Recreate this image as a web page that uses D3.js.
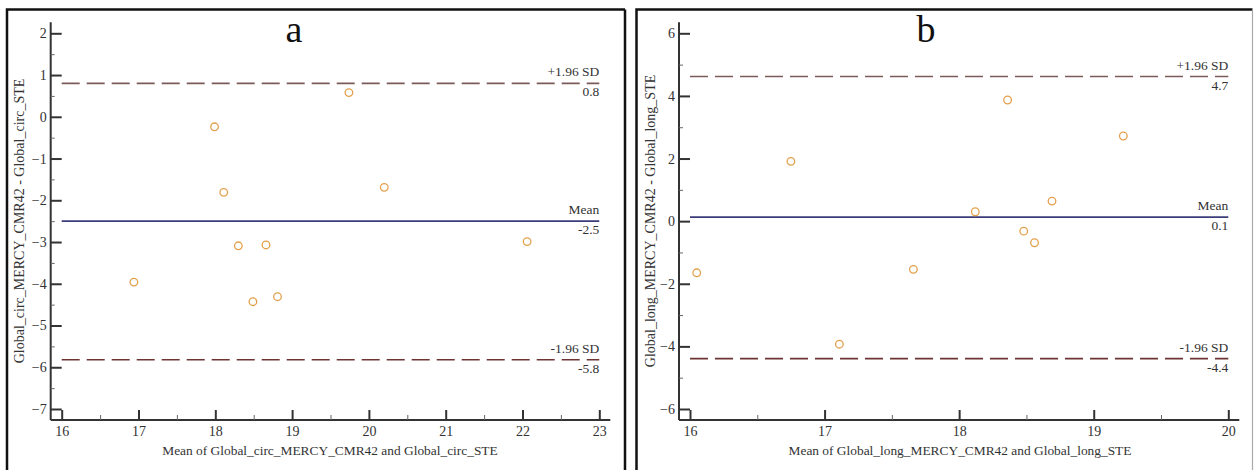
<!DOCTYPE html>
<html>
<head>
<meta charset="utf-8">
<script src="https://cdn.jsdelivr.net/npm/d3@7"></script>
<style>
  html, body { margin: 0; padding: 0; background: #fff; }
  svg { display: block; }
  svg text { font-family: "Liberation Serif", "Times New Roman", serif !important; }
</style>
</head>
<body>
<svg id="chart" width="1254" height="470"></svg>
<script>
// ---------- Data ----------
// Panel a : Global circumferential strain
const aMeanX = [17.99, 18.11, 19.74, 20.20, 22.06, 16.94, 18.30, 18.66, 18.49, 18.81];
const aDiffY = [-0.24, -1.81, 0.58, -1.69, -2.99, -3.96, -3.09, -3.07, -4.43, -4.31];
const aLines = [0.80, -2.50, -5.82];            // +1.96 SD, Mean, -1.96 SD
const aLineNames = ["+1.96 SD", "Mean", "-1.96 SD"];
const aLineValues = ["0.8", "-2.5", "-5.8"];
const aXTicks = [16, 17, 18, 19, 20, 21, 22, 23];
const aYTicks = [-7, -6, -5, -4, -3, -2, -1, 0, 1, 2];
const aXMinor = [16.5, 17.5, 18.5, 19.5, 20.5, 21.5, 22.5];
const aYMinor = [-6.5, -5.5, -4.5, -3.5, -2.5, -1.5, -0.5, 0.5, 1.5];

// Panel b : Global longitudinal strain
const bMeanX = [16.75, 18.36, 19.22, 18.69, 18.12, 18.48, 18.56, 16.05, 17.66, 17.11];
const bDiffY = [1.91, 3.87, 2.72, 0.64, 0.30, -0.32, -0.69, -1.65, -1.54, -3.93];
const bLines = [4.62, 0.13, -4.39];
const bLineNames = ["+1.96 SD", "Mean", "-1.96 SD"];
const bLineValues = ["4.7", "0.1", "-4.4"];
const bXTicks = [16, 17, 18, 19, 20];
const bYTicks = [-6, -4, -2, 0, 2, 4, 6];
const bXMinor = [16.5, 17.5, 18.5, 19.5];
const bYMinor = [-5, -3, -1, 1, 3, 5];

const svg = d3.select("#chart");

// panel frames
function frame(x0, x1, y0, rightColor) {
  svg.append("path")
    .attr("d", `M${x0},470 L${x0},${y0} L${x1},${y0}`)
    .attr("fill", "none").attr("stroke", "#111").attr("stroke-width", 2.5);
  svg.append("line")
    .attr("x1", x1).attr("x2", x1).attr("y1", y0).attr("y2", 470)
    .attr("stroke", rightColor).attr("stroke-width", rightColor === "#111" ? 2.5 : 1.2);
}
frame(7, 625, 9.5, "#111");
frame(636.5, 1252.5, 9.5, "#aaa");

function panel(cfg) {
  const g = svg.append("g");
  const x = d3.scaleLinear().domain(cfg.xDomain).range(cfg.xRange);
  const y = d3.scaleLinear().domain(cfg.yDomain).range(cfg.yRange);
  const axisX = cfg.xRange[0] - 11;   // y-axis position
  const axisY = cfg.yRange[0] + 11;   // x-axis position
  const ext = 11;

  // axis lines
  g.append("line").attr("x1", axisX).attr("x2", axisX)
    .attr("y1", cfg.yRange[1] - ext).attr("y2", axisY)
    .attr("stroke", "#333").attr("stroke-width", 2);
  g.append("line").attr("x1", axisX).attr("x2", cfg.xRange[1] + ext)
    .attr("y1", axisY).attr("y2", axisY)
    .attr("stroke", "#333").attr("stroke-width", 2);

  // y axis (major)
  const yAx = g.append("g").attr("transform", `translate(${axisX},0)`)
    .call(d3.axisLeft(y).tickValues(cfg.yTicks).tickSizeInner(-11).tickSizeOuter(0).tickPadding(4).tickFormat(d3.format("d")));
  yAx.select(".domain").remove();
  yAx.attr("font-family", null);
  yAx.selectAll(".tick line").attr("stroke", "#333").attr("stroke-width", 2);
  yAx.selectAll(".tick text").attr("font-size", 14).attr("fill", "#333");
  // y minor
  const yMin = g.append("g").attr("transform", `translate(${axisX},0)`)
    .call(d3.axisLeft(y).tickValues(cfg.yMinor).tickSizeInner(-4).tickSizeOuter(0).tickFormat(""));
  yMin.select(".domain").remove();
  yMin.selectAll(".tick line").attr("stroke", "#666").attr("stroke-width", 1);

  // x axis (major)
  const xAx = g.append("g").attr("transform", `translate(0,${axisY})`)
    .call(d3.axisBottom(x).tickValues(cfg.xTicks).tickSizeInner(-10).tickSizeOuter(0).tickPadding(6).tickFormat(d3.format("d")));
  xAx.select(".domain").remove();
  xAx.attr("font-family", null);
  xAx.selectAll(".tick line").attr("stroke", "#333").attr("stroke-width", 2);
  xAx.selectAll(".tick text").attr("font-size", 14).attr("fill", "#333");
  const xMin = g.append("g").attr("transform", `translate(0,${axisY})`)
    .call(d3.axisBottom(x).tickValues(cfg.xMinor).tickSizeInner(-5).tickSizeOuter(0).tickFormat(""));
  xMin.select(".domain").remove();
  xMin.selectAll(".tick line").attr("stroke", "#666").attr("stroke-width", 1);

  // reference lines
  const styles = [
    { color: "#7d5a5a", dash: "18,7" },
    { color: "#3c3c78", dash: null },
    { color: "#6e3434", dash: "18,7" }
  ];
  cfg.lines.forEach((v, i) => {
    const ln = g.append("line")
      .attr("x1", x(cfg.xDomain[0])).attr("x2", x(cfg.xDomain[1]))
      .attr("y1", y(v)).attr("y2", y(v))
      .attr("stroke", styles[i].color).attr("stroke-width", 1.6);
    if (styles[i].dash) ln.attr("stroke-dasharray", styles[i].dash);
    g.append("text").attr("x", x(cfg.xDomain[1])).attr("y", y(v) - 7)
      .attr("text-anchor", "end").attr("font-size", 13.5).attr("fill", "#333")
      .text(cfg.lineNames[i]);
    g.append("text").attr("x", x(cfg.xDomain[1])).attr("y", y(v) + 13)
      .attr("text-anchor", "end").attr("font-size", 13.5).attr("fill", "#333")
      .text(cfg.lineValues[i]);
  });

  // points
  g.selectAll("circle.pt").data(cfg.px.map((d, i) => [d, cfg.py[i]]))
    .enter().append("circle").attr("class", "pt")
    .attr("cx", d => x(d[0])).attr("cy", d => y(d[1])).attr("r", 3.8)
    .attr("fill", "#fff").attr("stroke", "#e3a04c").attr("stroke-width", 1.3);

  // titles
  g.append("text").attr("x", cfg.xTitleX).attr("y", 455)
    .attr("text-anchor", "middle").attr("font-size", 13.4).attr("fill", "#333")
    .text(cfg.xTitle);
  g.append("text").attr("transform", `translate(${cfg.yTitleX},221) rotate(-90)`)
    .attr("text-anchor", "middle").attr("font-size", 14).attr("fill", "#333")
    .text(cfg.yTitle);
  g.append("text").attr("x", cfg.letterX).attr("y", 42)
    .attr("text-anchor", "middle").attr("font-size", 38).attr("fill", "#111")
    .text(cfg.letter);
}

panel({
  xDomain: [16, 23], xRange: [61.7, 599.3],
  yDomain: [-7, 2], yRange: [409, 33.3],
  xTicks: aXTicks, yTicks: aYTicks, xMinor: aXMinor, yMinor: aYMinor,
  lines: aLines, lineNames: aLineNames, lineValues: aLineValues,
  px: aMeanX, py: aDiffY,
  xTitle: "Mean of Global_circ_MERCY_CMR42 and Global_circ_STE", xTitleX: 330,
  yTitle: "Global_circ_MERCY_CMR42 - Global_circ_STE", yTitleX: 24,
  letter: "a", letterX: 294
});

panel({
  xDomain: [16, 20], xRange: [690, 1228.3],
  yDomain: [-6, 6], yRange: [409, 33.3],
  xTicks: bXTicks, yTicks: bYTicks, xMinor: bXMinor, yMinor: bYMinor,
  lines: bLines, lineNames: bLineNames, lineValues: bLineValues,
  px: bMeanX, py: bDiffY,
  xTitle: "Mean of Global_long_MERCY_CMR42 and Global_long_STE", xTitleX: 960,
  yTitle: "Global_long_MERCY_CMR42 - Global_long_STE", yTitleX: 655,
  letter: "b", letterX: 926
});
</script>
</body>
</html>
